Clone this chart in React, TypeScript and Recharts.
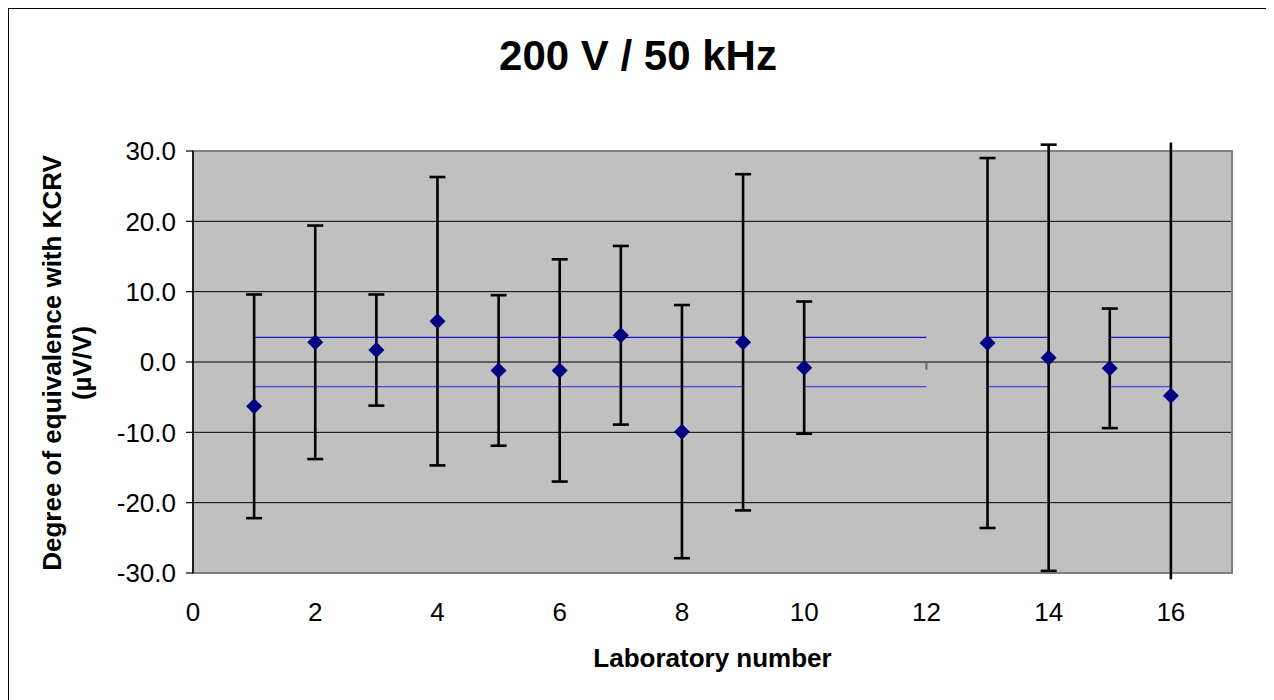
import React from 'react';
import {
  ComposedChart,
  XAxis,
  YAxis,
  CartesianGrid,
  Line,
  Scatter,
  ErrorBar,
  ReferenceArea,
  Label,
} from 'recharts';

// values
const labNumbers = [1, 2, 3, 4, 5, 6, 7, 8, 9, 10, 13, 14, 15, 16];
const degreeOfEquivalence = [-6.3, 2.8, 1.7, 5.8, -1.2, -1.2, 3.8, -9.9, 2.8, -0.8, 2.7, 0.6, -0.9, -4.8];
// visible error bar extent below / above each point
const errorMinus = [15.9, 16.6, 7.9, 20.5, 10.7, 15.8, 12.7, 18.0, 23.9, 9.4, 26.3, 30.3, 8.5, 26.1];
const errorPlus = [15.9, 16.6, 7.9, 20.5, 10.7, 15.8, 12.7, 18.0, 23.9, 9.4, 26.3, 30.3, 8.5, 36.0];
// lab 16's bar runs off the plot, drawn without caps
const caplessLabs = [16];

// u(KCRV) band, drawn as broken segments between lab numbers
const kcrvUncertainty = 3.5;
const kcrvSegments = [[1, 9], [10, 12], [13, 14], [15, 16]];

// short grey stub shown at lab 12
const lab12Stub = [0, -1.1];

const xTicks = [0, 2, 4, 6, 8, 10, 12, 14, 16];
const yTicks = [-30, -20, -10, 0, 10, 20, 30];

const FONT = "'Liberation Sans', Arial, sans-serif";

const points = labNumbers.map((lab, i) => ({
  lab,
  doe: degreeOfEquivalence[i],
  err: [errorMinus[i], errorPlus[i]],
}));
const cappedPoints = points.filter((p) => !caplessLabs.includes(p.lab));
const caplessPoints = points.filter((p) => caplessLabs.includes(p.lab));

const kcrvLine = (sign: number) =>
  kcrvSegments.flatMap(([a, b], i) => {
    const seg = [
      { lab: a, v: sign * kcrvUncertainty },
      { lab: b, v: sign * kcrvUncertainty },
    ];
    if (i < kcrvSegments.length - 1) {
      return [...seg, { lab: (b + kcrvSegments[i + 1][0]) / 2, v: null }];
    }
    return seg;
  });

const stubData = lab12Stub.map((v) => ({ lab: 12, v }));

const Diamond = (props: any) => {
  const { cx, cy } = props;
  if (cx == null || cy == null) return null;
  const r = 8;
  return (
    <polygon
      points={`${cx},${cy - r} ${cx + r},${cy} ${cx},${cy + r} ${cx - r},${cy}`}
      fill="#000080"
    />
  );
};

const YTitle = () => (
  <g>
    <text
      x={53}
      y={355}
      transform="rotate(-90 53 355)"
      textAnchor="middle"
      fontFamily={FONT}
      fontWeight="bold"
      fontSize={26}
      fill="#000"
    >
      Degree of equivalence with KCRV
    </text>
    <text
      x={83}
      y={355}
      transform="rotate(-90 83 355)"
      textAnchor="middle"
      fontFamily={FONT}
      fontWeight="bold"
      fontSize={26}
      fill="#000"
    >
      (µV/V)
    </text>
  </g>
);

const XTitle = (props: any) => {
  const vb = props.viewBox || {};
  const cx = (vb.x ?? 0) + (vb.width ?? 0) / 2;
  return (
    <text
      x={cx}
      y={659}
      textAnchor="middle"
      fontFamily={FONT}
      fontWeight="bold"
      fontSize={26}
      fill="#000"
    >
      Laboratory number
    </text>
  );
};

export default function App() {
  return (
    <div style={{ position: 'relative', width: 1260, height: 720, background: '#fff' }}>
      <div
        style={{
          position: 'absolute',
          left: 0,
          top: 0,
          width: 1260,
          height: 720,
          boxSizing: 'border-box',
          border: '1px solid #000',
          pointerEvents: 'none',
        }}
      />
      <div
        style={{
          position: 'absolute',
          left: 0,
          top: 27,
          width: 1260,
          textAlign: 'center',
          fontFamily: FONT,
          fontWeight: 'bold',
          fontSize: 42,
          lineHeight: '42px',
          color: '#000',
        }}
      >
        200 V / 50 kHz
      </div>
      <ComposedChart
        width={1260}
        height={720}
        margin={{ top: 143, right: 36, bottom: 95, left: 0 }}
        style={{ position: 'absolute', left: 0, top: 0 }}
      >
        <CartesianGrid
          horizontal
          vertical={false}
          stroke="#000"
          strokeWidth={1}
          fill="#c0c0c0"
          fillOpacity={1}
        />
        <XAxis
          type="number"
          dataKey="lab"
          domain={[0, 17]}
          ticks={xTicks}
          allowDataOverflow
          axisLine={false}
          tickLine={false}
          tickMargin={24}
          height={60}
          tick={{ fontFamily: FONT, fontSize: 26, fill: '#000' }}
        >
          <Label content={<XTitle />} />
        </XAxis>
        <YAxis
          type="number"
          domain={[-30, 30]}
          ticks={yTicks}
          allowDataOverflow
          width={185}
          tickFormatter={(v: number) => v.toFixed(1)}
          axisLine={{ stroke: '#000', strokeWidth: 1.5 }}
          tickLine={{ stroke: '#000', strokeWidth: 1.2 }}
          tickSize={7}
          tickMargin={10}
          tick={{ fontFamily: FONT, fontSize: 26, fill: '#000' }}
        >
          <Label content={<YTitle />} />
        </YAxis>
        <ReferenceArea
          x1={0}
          x2={17}
          y1={-30}
          y2={30}
          fill="none"
          stroke="#808080"
          strokeWidth={2}
          ifOverflow="visible"
        />
        <Line
          data={kcrvLine(1)}
          dataKey="v"
          stroke="#1414c8"
          strokeWidth={1.3}
          dot={false}
          activeDot={false}
          isAnimationActive={false}
        />
        <Line
          data={kcrvLine(-1)}
          dataKey="v"
          stroke="#4848dc"
          strokeWidth={1.3}
          dot={false}
          activeDot={false}
          isAnimationActive={false}
        />
        <Line
          data={stubData}
          dataKey="v"
          stroke="#666"
          strokeWidth={2}
          dot={false}
          activeDot={false}
          isAnimationActive={false}
        />
        <Scatter data={caplessPoints} dataKey="doe" shape={<Diamond />} isAnimationActive={false}>
          <ErrorBar
            dataKey="err"
            direction="y"
            width={0}
            stroke="#000"
            strokeWidth={2.6}
            isAnimationActive={false}
          />
        </Scatter>
        <Scatter data={cappedPoints} dataKey="doe" shape={<Diamond />} isAnimationActive={false}>
          <ErrorBar
            dataKey="err"
            direction="y"
            width={8}
            stroke="#000"
            strokeWidth={2.6}
            isAnimationActive={false}
          />
        </Scatter>
      </ComposedChart>
    </div>
  );
}
